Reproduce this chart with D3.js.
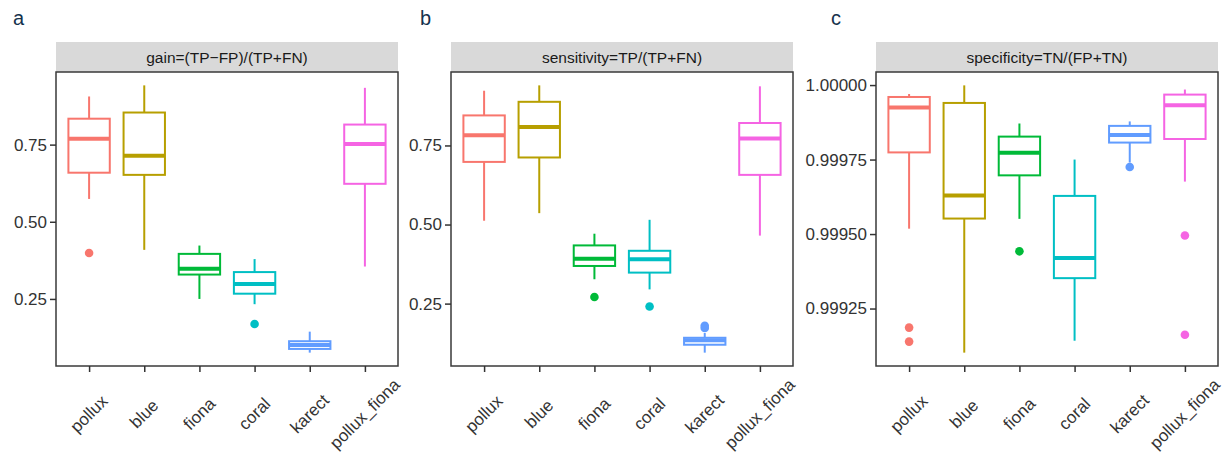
<!DOCTYPE html>
<html>
<head>
<meta charset="utf-8">
<script src="https://cdn.jsdelivr.net/npm/d3@7"></script>
<style>
  body { margin: 0; background: #fff; }
  text { font-family: "Liberation Sans", Arial, Helvetica, sans-serif; }
</style>
</head>
<body>
<div id="container"></div>
<script>
/* DATA */
const categories = ["pollux", "blue", "fiona", "coral", "karect", "pollux_fiona"];
const colors = ["#F8766D", "#B79F00", "#00BA38", "#00BFC4", "#619CFF", "#F564E3"];

// [lower whisker, q1, median, q3, upper whisker]
const gainStats = [
  [0.574, 0.659, 0.769, 0.834, 0.906],
  [0.409, 0.652, 0.714, 0.854, 0.942],
  [0.250, 0.329, 0.348, 0.396, 0.423],
  [0.233, 0.267, 0.298, 0.337, 0.379],
  [0.076, 0.088, 0.101, 0.113, 0.144],
  [0.355, 0.623, 0.752, 0.815, 0.934]
];
const gainOutliers = [[0.399], [], [], [0.169], [], []];

const sensStats = [
  [0.512, 0.698, 0.782, 0.845, 0.923],
  [0.536, 0.712, 0.808, 0.888, 0.940],
  [0.327, 0.369, 0.392, 0.434, 0.471],
  [0.295, 0.348, 0.390, 0.417, 0.515],
  [0.095, 0.120, 0.134, 0.142, 0.157],
  [0.465, 0.657, 0.772, 0.821, 0.937]
];
const sensOutliers = [[], [], [0.271], [0.241], [0.173, 0.180], []];

const specStats = [
  [0.999518, 0.999774, 0.999925, 0.999960, 0.999970],
  [0.999102, 0.999552, 0.999629, 0.999940, 0.999999],
  [0.999551, 0.999697, 0.999773, 0.999827, 0.999871],
  [0.999142, 0.999352, 0.999420, 0.999628, 0.999750],
  [0.999740, 0.999807, 0.999832, 0.999863, 0.999878],
  [0.999676, 0.999819, 0.999932, 0.999968, 0.999985]
];
const specOutliers = [[0.999186, 0.999139], [], [0.999442], [], [0.999725], [0.999495, 0.999162]];

const gainTicks = [0.25, 0.50, 0.75];
const sensTicks = [0.25, 0.50, 0.75];
const specTicks = [0.99925, 0.99950, 0.99975, 1.00000];

const panels = [
  { label: "a", title: "gain=(TP\u2212FP)/(TP+FN)", stats: gainStats, outliers: gainOutliers, ticks: gainTicks, fmt: ".2f", left: 56, labelX: 13 },
  { label: "b", title: "sensitivity=TP/(TP+FN)", stats: sensStats, outliers: sensOutliers, ticks: sensTicks, fmt: ".2f", left: 451, labelX: 420 },
  { label: "c", title: "specificity=TN/(FP+TN)", stats: specStats, outliers: specOutliers, ticks: specTicks, fmt: ".5f", left: 876, labelX: 831 }
];

/* LAYOUT */
const width = 1232;
const height = 452;
const panelW = 342;
const stripTop = 42;
const panelTop = 72;
const panelBottom = 366;

const svg = d3.select("#container").append("svg")
  .attr("width", width)
  .attr("height", height);

panels.forEach(p => {
  const g = svg.append("g").attr("transform", `translate(${p.left},0)`);

  const allVals = p.stats.flat().concat(p.outliers.flat());
  const [mn, mx] = d3.extent(allVals);
  const pad = (mx - mn) * 0.05;

  const yScale = d3.scaleLinear()
    .domain([mn - pad, mx + pad])
    .range([panelBottom, panelTop]);

  const xScale = d3.scalePoint()
    .domain(categories)
    .range([0, panelW])
    .padding(0.6);

  const boxW = xScale.step() * 0.75;

  // panel label
  svg.append("text")
    .attr("x", p.labelX)
    .attr("y", 25)
    .attr("font-size", 20)
    .attr("fill", "#15324d")
    .text(p.label);

  // strip
  g.append("rect")
    .attr("x", 0).attr("y", stripTop)
    .attr("width", panelW).attr("height", panelTop - stripTop)
    .attr("fill", "#d9d9d9");
  g.append("text")
    .attr("x", panelW / 2).attr("y", (stripTop + panelTop) / 2)
    .attr("text-anchor", "middle")
    .attr("dominant-baseline", "central")
    .attr("font-size", 15.5)
    .attr("fill", "#1a1a1a")
    .text(p.title);

  // boxes
  const boxes = g.selectAll("g.box")
    .data(p.stats.map((s, i) => ({ s, i, cat: categories[i] })))
    .join("g")
    .attr("class", "box")
    .attr("stroke", d => colors[d.i])
    .attr("fill", "none");

  boxes.append("line")
    .attr("x1", d => xScale(d.cat)).attr("x2", d => xScale(d.cat))
    .attr("y1", d => yScale(d.s[4])).attr("y2", d => yScale(d.s[3]))
    .attr("stroke-width", 2);
  boxes.append("line")
    .attr("x1", d => xScale(d.cat)).attr("x2", d => xScale(d.cat))
    .attr("y1", d => yScale(d.s[1])).attr("y2", d => yScale(d.s[0]))
    .attr("stroke-width", 2);
  boxes.append("rect")
    .attr("x", d => xScale(d.cat) - boxW / 2)
    .attr("y", d => yScale(d.s[3]))
    .attr("width", boxW)
    .attr("height", d => yScale(d.s[1]) - yScale(d.s[3]))
    .attr("fill", "#fff")
    .attr("stroke-width", 2);
  boxes.append("line")
    .attr("x1", d => xScale(d.cat) - boxW / 2).attr("x2", d => xScale(d.cat) + boxW / 2)
    .attr("y1", d => yScale(d.s[2])).attr("y2", d => yScale(d.s[2]))
    .attr("stroke-width", 4);

  // outliers
  const outl = p.outliers.flatMap((arr, i) => arr.map(v => ({ v, i })));
  g.selectAll("circle.out")
    .data(outl)
    .join("circle")
    .attr("class", "out")
    .attr("cx", d => xScale(categories[d.i]))
    .attr("cy", d => yScale(d.v))
    .attr("r", 4.3)
    .attr("fill", d => colors[d.i]);

  // panel border
  g.append("rect")
    .attr("x", 0).attr("y", panelTop)
    .attr("width", panelW).attr("height", panelBottom - panelTop)
    .attr("fill", "none")
    .attr("stroke", "#3a3a3a")
    .attr("stroke-width", 1.5);

  // y axis
  const yAxis = d3.axisLeft(yScale)
    .tickValues(p.ticks)
    .tickFormat(d3.format(p.fmt))
    .tickSize(6)
    .tickPadding(3);
  const ya = g.append("g").call(yAxis);
  ya.select(".domain").remove();
  ya.selectAll(".tick line").attr("stroke", "#333").attr("stroke-width", 1.5);
  ya.selectAll(".tick text")
    .attr("font-size", 17)
    .attr("fill", "#333")
    .attr("font-family", "'Liberation Sans', Arial, sans-serif");

  // x axis
  const xAxis = d3.axisBottom(xScale).tickSize(6).tickFormat("");
  const xa = g.append("g").attr("transform", `translate(0,${panelBottom})`).call(xAxis);
  xa.select(".domain").remove();
  xa.selectAll(".tick line").attr("stroke", "#333").attr("stroke-width", 1.5);

  g.selectAll("text.xlab")
    .data(categories)
    .join("text")
    .attr("class", "xlab")
    .attr("transform", d => `translate(${xScale(d)},414) rotate(-45)`)
    .attr("text-anchor", "middle")
    .attr("dominant-baseline", "central")
    .attr("font-size", 17)
    .attr("fill", "#333")
    .text(d => d);
});
</script>
</body>
</html>
